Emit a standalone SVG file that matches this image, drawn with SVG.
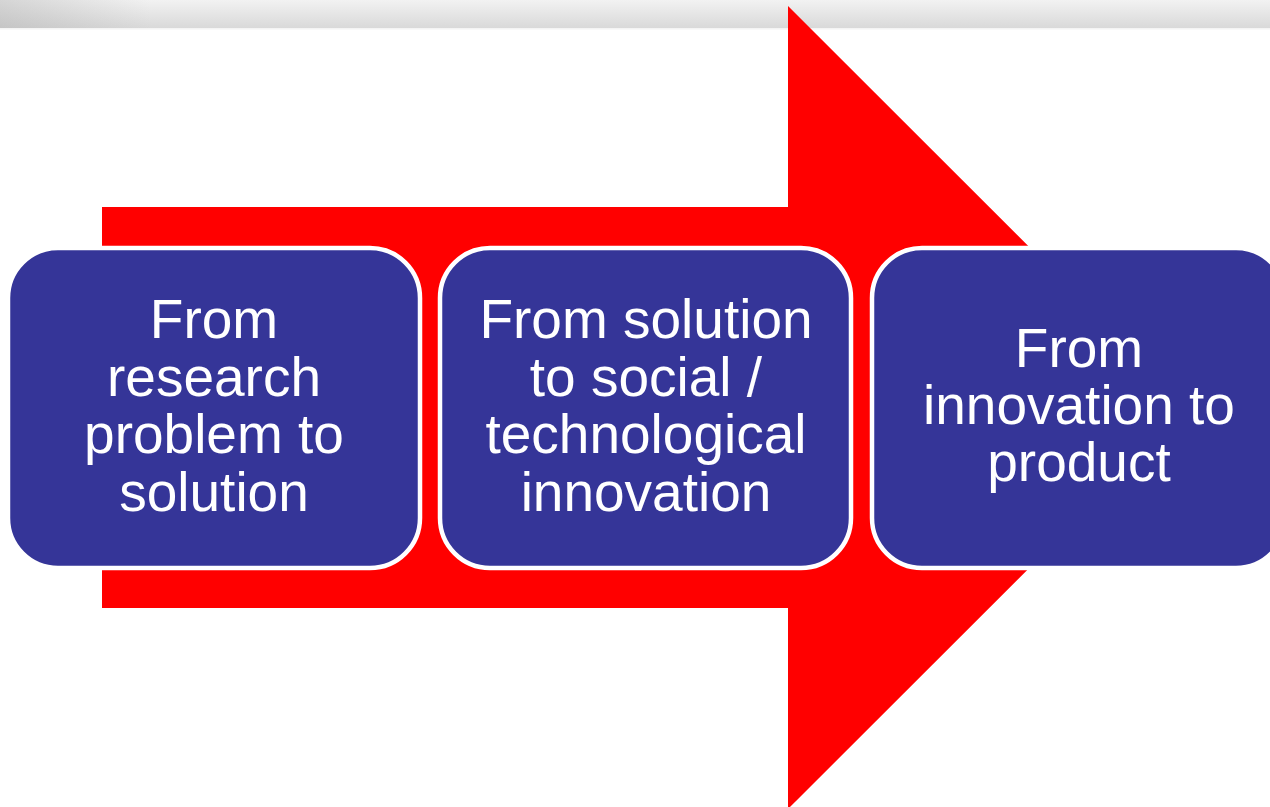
<svg xmlns="http://www.w3.org/2000/svg" width="1270" height="807" viewBox="0 0 1270 807">
  <defs>
    <linearGradient id="barV" x1="0" y1="0" x2="0" y2="1">
      <stop offset="0" stop-color="#f2f2f2"/>
      <stop offset="1" stop-color="#d9d9d9"/>
    </linearGradient>
    <linearGradient id="barH" x1="0" y1="0" x2="1" y2="0">
      <stop offset="0" stop-color="#a0a0a0" stop-opacity="0.35"/>
      <stop offset="0.3" stop-color="#a0a0a0" stop-opacity="0"/>
      <stop offset="1" stop-color="#a0a0a0" stop-opacity="0"/>
    </linearGradient>
  </defs>
  <style>
    .box { fill: #353598; stroke: #ffffff; stroke-width: 4.5; }
    .lbl { font-family: "Liberation Sans", Arial, sans-serif; font-size: 55px; fill: #ffffff; text-anchor: middle; }
  </style>
  <rect x="0" y="0" width="1270" height="807" fill="#ffffff"/>
  <g id="topbar">
    <rect x="0" y="0" width="1270" height="28" fill="url(#barV)"/>
    <rect x="0" y="0" width="500" height="28" fill="url(#barH)"/>
    <rect x="0" y="28" width="1270" height="1.5" fill="#f4f4f4"/>
  </g>
  <g id="connectors">
    <polygon id="arrow" points="102,207 788,207 788,6 1190,407.5 788,809 788,608 102,608" fill="#ff0000"/>
  </g>
  <g id="node1">
    <rect class="box" x="8" y="248" width="412" height="320" rx="50" ry="50"/>
    <text class="lbl" x="214" y="338">From</text>
    <text class="lbl" x="214" y="396">research</text>
    <text class="lbl" x="214" y="453">problem to</text>
    <text class="lbl" x="214" y="511">solution</text>
  </g>
  <g id="node2">
    <rect class="box" x="440" y="248" width="411" height="320" rx="50" ry="50"/>
    <text class="lbl" x="646" y="338">From solution</text>
    <text class="lbl" x="646" y="396">to social /</text>
    <text class="lbl" x="646" y="453">technological</text>
    <text class="lbl" x="646" y="511">innovation</text>
  </g>
  <g id="node3">
    <rect class="box" x="872" y="248" width="414" height="320" rx="50" ry="50"/>
    <text class="lbl" x="1079" y="367">From</text>
    <text class="lbl" x="1079" y="424">innovation to</text>
    <text class="lbl" x="1079" y="481">product</text>
  </g>
</svg>
